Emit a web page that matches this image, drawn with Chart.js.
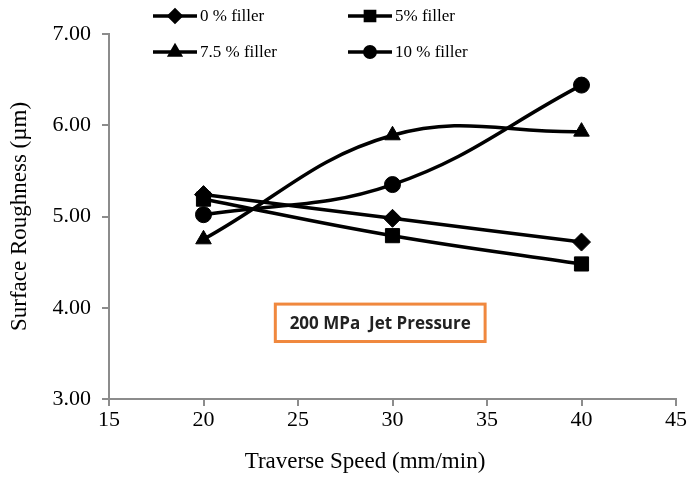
<!DOCTYPE html>
<html>
<head>
<meta charset="utf-8">
<script src="https://cdn.jsdelivr.net/npm/chart.js@4/dist/chart.umd.min.js"></script>
<style>
  html, body { margin: 0; padding: 0; background: #fff; }
  #wrap { width: 689px; height: 478px; }
</style>
</head>
<body>
<div id="wrap"><canvas id="roughness_chart"></canvas></div>
<script>
// Traverse speeds (mm/min)
const speeds = [20, 30, 40];

// Surface roughness (um) per filler content
const filler0 = [5.24, 4.98, 4.72];
const filler5 = [5.19, 4.79, 4.48];
const filler75 = [4.75, 5.89, 5.93];
const filler10 = [5.02, 5.35, 6.44];

const seriesNames = ["0 % filler", "5% filler", "7.5 % filler", "10 % filler"];
const xTicks = [15, 20, 25, 30, 35, 40, 45];
const yTicks = [3, 4, 5, 6, 7];

const axisGray = "#8c8c8c";
const serif = "'Liberation Serif', 'Times New Roman', serif";

function toPoints(values) {
  return speeds.map((s, i) => ({ x: s, y: values[i] }));
}

function makeSet(label, values, style, radius) {
  return {
    label: label,
    data: toPoints(values),
    borderColor: "#000",
    backgroundColor: "#000",
    borderWidth: 3.5,
    pointStyle: style,
    pointRadius: radius,
    pointHoverRadius: radius,
    pointBorderWidth: 1,
    tension: 0.4,
    fill: false
  };
}

// legend drawn by hand: line with the marker in the middle, two columns
const legendPlugin = {
  id: "fillerLegend",
  afterDraw(chart) {
    const ctx = chart.ctx;
    const spots = [[153, 16], [348, 16], [153, 52], [348, 52]];
    chart.data.datasets.forEach((ds, i) => {
      const [x, y] = spots[i];
      ctx.save();
      ctx.strokeStyle = "#000";
      ctx.lineWidth = 3.5;
      ctx.beginPath();
      ctx.moveTo(x, y);
      ctx.lineTo(x + 44, y);
      ctx.stroke();
      ctx.fillStyle = "#000";
      Chart.helpers.drawPoint(ctx, {
        pointStyle: ds.pointStyle,
        radius: ds.pointRadius * 0.65,
        rotation: 0,
        borderWidth: 1
      }, x + 22, y);
      ctx.font = "17px " + serif;
      ctx.textBaseline = "middle";
      ctx.fillText(ds.label, x + 47, y + 1);
      ctx.restore();
    });
  }
};

// orange framed note inside the plot, and the x axis caption
const notePlugin = {
  id: "pressureNote",
  afterDraw(chart) {
    const ctx = chart.ctx;
    const xs = chart.scales.x, ys = chart.scales.y;
    const left = xs.getPixelForValue(23.8), right = xs.getPixelForValue(34.9);
    const top = ys.getPixelForValue(4.04), bottom = ys.getPixelForValue(3.63);
    ctx.save();
    ctx.fillStyle = "#fff";
    ctx.fillRect(left, top, right - left, bottom - top);
    ctx.strokeStyle = "#f0883e";
    ctx.lineWidth = 3;
    ctx.strokeRect(left, top, right - left, bottom - top);
    ctx.fillStyle = "#222";
    ctx.font = "bold 17px 'Open Sans', 'Liberation Sans', sans-serif";
    ctx.textAlign = "center";
    ctx.textBaseline = "middle";
    ctx.fillText("200 MPa  Jet Pressure", (left + right) / 2, (top + bottom) / 2 + 1);

    ctx.fillStyle = "#000";
    ctx.font = "23px " + serif;
    ctx.fillText("Traverse Speed (mm/min)", 365, 462);
    ctx.restore();
  }
};

const ctx = document.getElementById("roughness_chart").getContext("2d");

new Chart(ctx, {
  type: "line",
  data: {
    datasets: [
      makeSet(seriesNames[0], filler0, "rectRot", 9),
      makeSet(seriesNames[1], filler5, "rect", 10),
      makeSet(seriesNames[2], filler75, "triangle", 9),
      makeSet(seriesNames[3], filler10, "circle", 8)
    ]
  },
  options: {
    responsive: true,
    maintainAspectRatio: false,
    animation: false,
    layout: { padding: { top: 34, right: 13, left: 0, bottom: 0 } },
    plugins: {
      legend: { display: false },
      tooltip: { enabled: false }
    },
    scales: {
      x: {
        type: "linear",
        min: xTicks[0],
        max: xTicks[xTicks.length - 1],
        afterBuildTicks(scale) { scale.ticks = xTicks.map(v => ({ value: v })); },
        afterFit(scale) { scale.height = 79; },
        border: { color: axisGray, width: 2 },
        grid: { drawOnChartArea: false, color: axisGray, tickLength: 7, lineWidth: 2 },
        ticks: { color: "#000", padding: 1, font: { family: serif, size: 22 } }
      },
      y: {
        min: yTicks[0],
        max: yTicks[yTicks.length - 1],
        afterBuildTicks(scale) { scale.ticks = yTicks.map(v => ({ value: v })); },
        afterFit(scale) { scale.width = 109; },
        border: { color: axisGray, width: 2 },
        grid: { drawOnChartArea: false, color: axisGray, tickLength: 7, lineWidth: 2 },
        ticks: {
          color: "#000",
          padding: 11,
          font: { family: serif, size: 22 },
          callback: v => v.toFixed(2)
        },
        title: {
          display: true,
          text: "Surface Roughness (\u00b5m)",
          color: "#000",
          font: { family: serif, size: 23 },
          padding: { top: 6, bottom: 0 }
        }
      }
    }
  },
  plugins: [legendPlugin, notePlugin]
});
</script>
</body>
</html>
